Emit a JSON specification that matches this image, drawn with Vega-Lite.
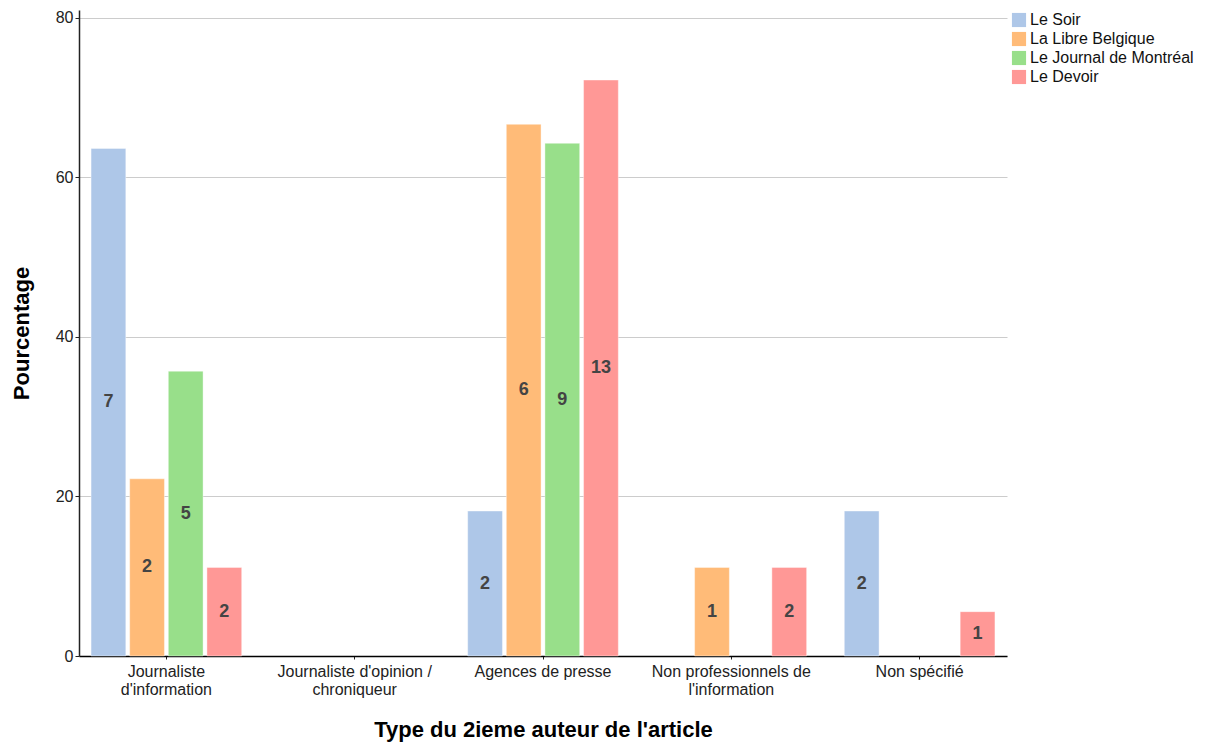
{
  "$schema": "https://vega.github.io/schema/vega-lite/v6.json",
  "autosize": "none",
  "width": 928,
  "height": 646,
  "padding": {"left": 79, "top": 10, "right": 198, "bottom": 88},
  "background": "white",
  "config": {"view": {"stroke": null}, "font": "Liberation Sans"},
  "data": {"values": [
    {"type": "Journaliste|d'information", "journal": "Le Soir", "pct": 63.64, "n": 7},
    {"type": "Journaliste|d'information", "journal": "La Libre Belgique", "pct": 22.22, "n": 2},
    {"type": "Journaliste|d'information", "journal": "Le Journal de Montréal", "pct": 35.71, "n": 5},
    {"type": "Journaliste|d'information", "journal": "Le Devoir", "pct": 11.11, "n": 2},
    {"type": "Agences de presse", "journal": "Le Soir", "pct": 18.18, "n": 2},
    {"type": "Agences de presse", "journal": "La Libre Belgique", "pct": 66.67, "n": 6},
    {"type": "Agences de presse", "journal": "Le Journal de Montréal", "pct": 64.29, "n": 9},
    {"type": "Agences de presse", "journal": "Le Devoir", "pct": 72.22, "n": 13},
    {"type": "Non professionnels de|l'information", "journal": "La Libre Belgique", "pct": 11.11, "n": 1},
    {"type": "Non professionnels de|l'information", "journal": "Le Devoir", "pct": 11.11, "n": 2},
    {"type": "Non spécifié", "journal": "Le Soir", "pct": 18.18, "n": 2},
    {"type": "Non spécifié", "journal": "Le Devoir", "pct": 5.56, "n": 1}
  ]},
  "transform": [{"calculate": "datum.pct / 2", "as": "mid"}],
  "encoding": {
    "x": {
      "field": "type", "type": "nominal",
      "sort": ["Journaliste|d'information", "Journaliste d'opinion /|chroniqueur", "Agences de presse", "Non professionnels de|l'information", "Non spécifié"],
      "scale": {"domain": ["Journaliste|d'information", "Journaliste d'opinion /|chroniqueur", "Agences de presse", "Non professionnels de|l'information", "Non spécifié"], "paddingInner": 0.2, "paddingOuter": 0.064},
      "axis": {
        "title": "Type du 2ieme auteur de l'article",
        "titleFont": "Liberation Sans", "titleFontSize": 22, "titleFontWeight": "bold", "titleColor": "black", "titlePadding": 22,
        "labelExpr": "split(datum.label, '|')",
        "labelAngle": 0, "labelFontSize": 16, "labelColor": "#222", "labelLineHeight": 18, "labelPadding": 4,
        "ticks": true, "tickColor": "#222", "tickSize": 3,
        "domainColor": "black", "domainWidth": 1.5, "grid": false
      }
    },
    "xOffset": {"field": "journal", "type": "nominal", "sort": ["Le Soir", "La Libre Belgique", "Le Journal de Montréal", "Le Devoir"], "scale": {"domain": ["Le Soir", "La Libre Belgique", "Le Journal de Montréal", "Le Devoir"], "paddingInner": 0.1}}
  },
  "layer": [
    {
      "mark": {"type": "bar", "stroke": "white", "strokeOpacity": 0.4, "strokeWidth": 1},
      "encoding": {
        "y": {
          "field": "pct", "type": "quantitative",
          "scale": {"domain": [0, 81], "nice": false},
          "axis": {
            "title": "Pourcentage", "titleFont": "Liberation Sans", "titleFontSize": 22, "titleFontWeight": "bold", "titleColor": "black", "titlePadding": 22,
            "values": [0, 20, 40, 60, 80], "labelFontSize": 16, "labelColor": "#222",
            "domainColor": "#222", "domainWidth": 1.5, "tickColor": "#222", "tickSize": 4,
            "gridColor": "#cccccc", "gridWidth": 1
          }
        },
        "color": {
          "field": "journal", "type": "nominal",
          "scale": {"domain": ["Le Soir", "La Libre Belgique", "Le Journal de Montréal", "Le Devoir"], "range": ["#aec7e8", "#ffbb78", "#98df8a", "#ff9896"]},
          "legend": {"title": null, "orient": "none", "legendX": 932, "legendY": 2, "symbolType": "square", "symbolSize": 200, "symbolStrokeWidth": 0, "symbolOpacity": 1, "labelFontSize": 16, "labelColor": "#111", "labelLimit": 400, "rowPadding": 3, "labelOffset": 3}
        }
      }
    },
    {
      "mark": {"type": "text", "fontWeight": "bold", "fontSize": 18, "color": "#444", "baseline": "middle", "font": "Liberation Sans"},
      "encoding": {
        "y": {"field": "mid", "type": "quantitative"},
        "text": {"field": "n", "type": "quantitative"}
      }
    }
  ]
}
